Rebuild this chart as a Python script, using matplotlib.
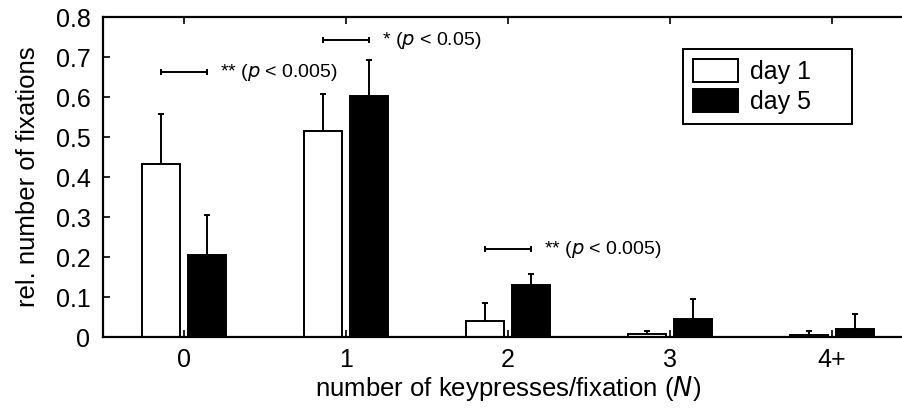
import numpy as np
import matplotlib.pyplot as plt

plt.rcParams['font.family'] = ['Liberation Sans', 'DejaVu Sans']

# data: relative number of fixations per keypress count
categories = ['0', '1', '2', '3', '4+']
day1 = [0.432, 0.516, 0.041, 0.007, 0.005]
day1_err = [0.125, 0.091, 0.045, 0.009, 0.011]
day5 = [0.205, 0.603, 0.130, 0.046, 0.020]
day5_err = [0.100, 0.091, 0.027, 0.048, 0.037]

# significance markers: category index, height, label
sig_idx = [0, 1, 2]
sig_y = [0.6625, 0.7425, 0.22]
sig_txt = [r'** ($\it{p}$ < 0.005)', r'* ($\it{p}$ < 0.05)', r'** ($\it{p}$ < 0.005)']

x = np.arange(len(categories))
w = 0.23
off = 0.142

fig = plt.figure(figsize=(9.03, 4.08), dpi=100)
ax = fig.add_axes([0.114, 0.174, 0.897, 0.784])

ax.bar(x - off, day1, w, color='white', edgecolor='black', linewidth=1.4, label='day 1', zorder=2)
ax.bar(x + off, day5, w, color='black', edgecolor='black', linewidth=1.4, label='day 5', zorder=2)
ax.errorbar(x - off, day1, yerr=[np.zeros(len(x)), day1_err], fmt='none',
            ecolor='black', elinewidth=1.4, capsize=2.5, capthick=1.4, zorder=3)
ax.errorbar(x + off, day5, yerr=[np.zeros(len(x)), day5_err], fmt='none',
            ecolor='black', elinewidth=1.4, capsize=2.5, capthick=1.4, zorder=3)

for i, y, t in zip(sig_idx, sig_y, sig_txt):
    ax.plot([x[i] - off, x[i] + off], [y, y], color='black', lw=1.4,
            marker='|', markersize=5, markeredgewidth=1.4)
    ax.text(x[i] + off + 0.08, y, t, fontsize=14, va='center', ha='left')

ax.set_xlim(-0.5, 4.5)
ax.set_ylim(0, 0.8)
ax.set_xticks(x)
ax.set_xticklabels(categories)
ax.set_yticks(np.arange(0, 0.81, 0.1))
ax.set_yticklabels(['0'] + ['%.1f' % v for v in np.arange(0.1, 0.81, 0.1)])
ax.tick_params(direction='in', length=5, width=1.2, top=True, labelsize=18)
ax.tick_params(axis='x', pad=8)
ax.tick_params(axis='y', pad=9)
for s in ax.spines.values():
    s.set_linewidth(1.6)

ax.set_xlabel(r'number of keypresses/fixation ($\it{N}$)', fontsize=18.5, labelpad=1)
ax.set_ylabel('rel. number of fixations', fontsize=18.5, labelpad=11)

# legend box stretched to a fixed width
leg = ax.legend(loc='upper left', bbox_to_anchor=(0.716, 0.9, 0.2086, 0), mode='expand',
                fontsize=18, fancybox=False, framealpha=1, edgecolor='black',
                borderaxespad=0, handlelength=1.8, handleheight=1.05, handletextpad=0.5,
                borderpad=0.4, labelspacing=0.2)
leg.get_frame().set_linewidth(1.4)

fig.savefig('out.png', dpi=100)
